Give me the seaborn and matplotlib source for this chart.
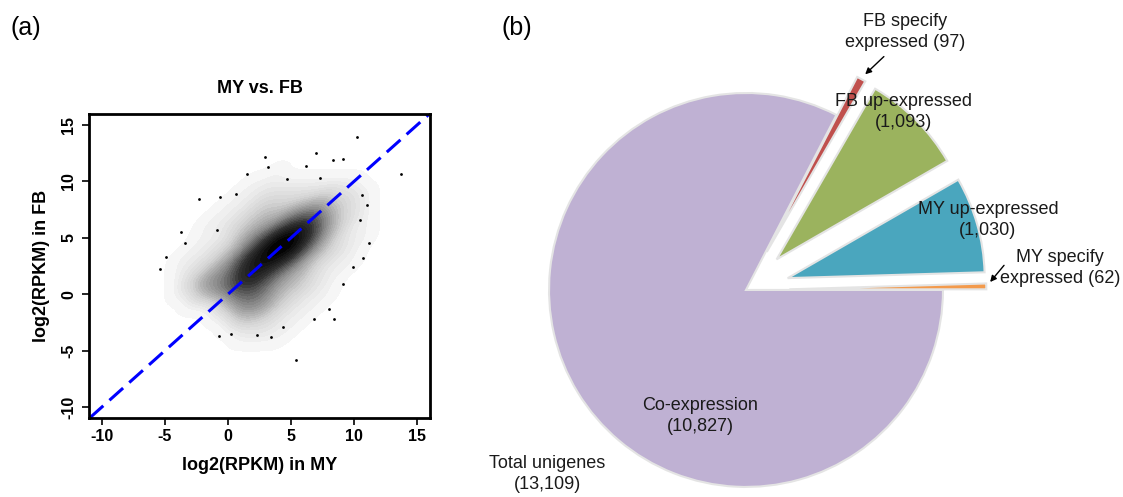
import numpy as np
import pandas as pd
import matplotlib
matplotlib.use("Agg")
import matplotlib.pyplot as plt
import seaborn as sns

# ---------------- (a) MY vs. FB scatter ----------------
# Point cloud is too dense to read point by point: estimated relative point
# density per 1x1 cell (cell centres).
grid_x = list(range(-5, 13))          # log2(RPKM) in MY
grid_y = list(range(11, -5, -1))      # log2(RPKM) in FB (top row first)
density_rows = [
    [0, 0, 0, 0, 0, 0, 0, 0, 0, 1, 0, 0, 0, 0, 0, 0, 0, 0],   # y=11
    [0, 0, 0, 0, 0, 0, 0, 1, 1, 1, 1, 1, 1, 1, 1, 1, 0, 0],   # y=10
    [0, 0, 0, 0, 0, 0, 1, 1, 2, 2, 2, 2, 2, 3, 2, 2, 1, 0],   # y=9
    [0, 0, 0, 0, 0, 1, 1, 2, 3, 3, 3, 4, 5, 4, 3, 2, 1, 0],   # y=8
    [0, 0, 0, 0, 1, 1, 2, 3, 4, 4, 6, 7, 7, 5, 3, 2, 1, 0],   # y=7
    [0, 0, 0, 1, 1, 2, 3, 4, 5, 7, 9, 10, 8, 5, 3, 1, 1, 0],  # y=6
    [0, 0, 0, 1, 1, 2, 4, 6, 8, 11, 12, 10, 7, 4, 2, 1, 1, 0],# y=5
    [0, 0, 1, 1, 2, 3, 5, 8, 11, 12, 11, 8, 5, 3, 2, 1, 0, 0],# y=4
    [0, 1, 1, 2, 3, 5, 8, 10, 11, 10, 8, 5, 3, 2, 1, 1, 0, 0],# y=3
    [0, 1, 2, 3, 5, 6, 9, 10, 9, 7, 5, 4, 2, 1, 1, 0, 0, 0],  # y=2
    [0, 1, 3, 5, 6, 7, 9, 9, 7, 5, 4, 3, 2, 1, 0, 0, 0, 0],   # y=1
    [0, 1, 2, 4, 5, 6, 7, 7, 6, 4, 3, 2, 1, 1, 0, 0, 0, 0],   # y=0
    [0, 0, 1, 1, 2, 4, 6, 6, 5, 3, 2, 1, 1, 0, 0, 0, 0, 0],   # y=-1
    [0, 0, 0, 0, 1, 2, 4, 4, 3, 2, 1, 1, 0, 0, 0, 0, 0, 0],   # y=-2
    [0, 0, 0, 0, 0, 1, 2, 2, 2, 1, 1, 0, 0, 0, 0, 0, 0, 0],   # y=-3
    [0, 0, 0, 0, 0, 0, 1, 1, 1, 1, 0, 0, 0, 0, 0, 0, 0, 0],   # y=-4
]
# isolated points read individually
outlier_my = [10.2, 13.7, 7.0, 2.9, 3.2, 6.2, 8.3, 9.1, 5.4, -5.4, -4.9, -2.3,
              -0.6, 11.2, 10.7, 8.0, 8.4, -0.7, 3.4, 4.4, -3.7, 1.5, 4.7, 10.6,
              11.0, 10.5, 7.3, -3.4, -0.9, 0.6, 9.9, 9.1, 6.8, 2.3, 0.2]
outlier_fb = [13.9, 10.7, 12.5, 12.2, 11.3, 11.4, 11.9, 12.0, -5.85, 2.2, 3.3, 8.4,
              8.6, 4.5, 3.2, -1.3, -2.2, -3.7, -3.8, -2.9, 5.5, 10.7, 10.2, 8.8,
              7.9, 6.6, 10.3, 4.5, 5.7, 8.9, 2.4, 0.9, -2.2, -3.6, -3.5]
x_ticks = [-10, -5, 0, 5, 10, 15]
y_ticks = [-10, -5, 0, 5, 10, 15]
scatter_title = "MY vs. FB"
x_label = "log2(RPKM) in MY"
y_label = "log2(RPKM) in FB"

# ---------------- (b) pie ----------------
pie_names = ["MY specify\nexpressed (62)", "MY up-expressed\n(1,030)",
             "FB up-expressed\n(1,093)", "FB specify\nexpressed (97)",
             "Co-expression\n(10,827)"]
pie_counts = [62, 1030, 1093, 97, 10827]
pie_colors = ["#F39A4C", "#4AA6BE", "#9BB35E", "#C0504D", "#BFB1D3"]
total_label = "Total unigenes\n(13,109)"

# ---------------- style ----------------
sns.set_style("white")
plt.rcParams["font.family"] = ["Liberation Sans", "DejaVu Sans"]
plt.rcParams["text.color"] = "black"
plt.rcParams["axes.labelcolor"] = "black"
plt.rcParams["xtick.color"] = "black"
plt.rcParams["ytick.color"] = "black"

fig = plt.figure(figsize=(11.23, 4.97), dpi=100)

# ---- scatter panel ----
ax = fig.add_axes([89 / 1123, 1 - 418 / 497, 341 / 1123, 304 / 497])
gx, gy, gw = [], [], []
for yv, row in zip(grid_y, density_rows):
    for xv, w in zip(grid_x, row):
        if w > 0:
            gx.append(xv); gy.append(yv); gw.append(w)
dens = pd.DataFrame({"MY": gx, "FB": gy, "w": gw})
cloud_cmap = sns.blend_palette(["#fbfbfb", "#d2d2d2", "#8a8a8a", "#333333", "#000000"],
                               as_cmap=True)
sns.kdeplot(data=dens, x="MY", y="FB", weights="w", fill=True, cmap=cloud_cmap,
            levels=30, thresh=0.006, bw_adjust=0.5, ax=ax)
sns.scatterplot(x=outlier_my, y=outlier_fb, s=4, color="black", linewidth=0, ax=ax)
ln = ax.axline((0, 0), slope=1, color="#0000FF", lw=2.2)
ln.set_dashes([6, 2.7])
ax.set_xlim(-11.03, 16.03)
ax.set_ylim(-10.98, 15.98)
ax.set_xticks(x_ticks)
ax.set_yticks(y_ticks)
ax.set_xticklabels([str(t) for t in x_ticks], fontsize=11.5, fontweight="bold")
ax.set_yticklabels([str(t) for t in y_ticks], fontsize=11.5, fontweight="bold",
                   rotation=90, va="center")
ax.tick_params(axis="both", direction="out", length=5, width=1.2,
               bottom=True, left=True, color="black")
ax.tick_params(axis="x", pad=3)
ax.tick_params(axis="y", pad=4)
for s in ax.spines.values():
    s.set_linewidth(2)
    s.set_color("black")
ax.set_xlabel(x_label, fontsize=13, fontweight="bold", labelpad=9)
ax.set_ylabel(y_label, fontsize=13, fontweight="bold", labelpad=8)
ax.set_title(scatter_title, fontsize=13, fontweight="bold", pad=15)

# ---- pie panel ----
pax = fig.add_axes([460 / 1123, 0, 663 / 1123, 1])
pax.pie(pie_counts, explode=[0.22, 0.22, 0.22, 0.22, 0.0], colors=pie_colors,
        startangle=0, counterclock=True, radius=1,
        wedgeprops=dict(edgecolor="#e4e4e4", linewidth=1.5))
pax.set_xlim(-1.452, 1.914)
pax.set_ylim(-1.051, 1.472)
pax.set_aspect("equal")
pax.axis("off")

tkw = dict(fontsize=13, ha="center", va="center", color="#1a1a1a", linespacing=1.25)
pax.text(0.807, 1.310, pie_names[3], **tkw)
pax.text(0.802, 0.904, pie_names[2], **tkw)
pax.text(1.228, 0.355, pie_names[1], **tkw)
pax.text(1.594, 0.112, pie_names[0], **tkw)
pax.text(-0.234, -0.640, pie_names[4], **tkw)
pax.text(-1.010, -0.934, total_label, **tkw)
akw = dict(arrowstyle="-|>", color="black", lw=1.0, mutation_scale=9,
           shrinkA=0, shrinkB=1)
pax.annotate("", xy=(0.60, 1.09), xytext=(0.70, 1.185), arrowprops=akw)
pax.annotate("", xy=(1.235, 0.035), xytext=(1.31, 0.125), arrowprops=akw)

fig.text(26 / 1123, 1 - 28 / 497, "(a)", fontsize=18, ha="center", va="center")
fig.text(517 / 1123, 1 - 28 / 497, "(b)", fontsize=18, ha="center", va="center")

fig.savefig("out.png", dpi=100)
